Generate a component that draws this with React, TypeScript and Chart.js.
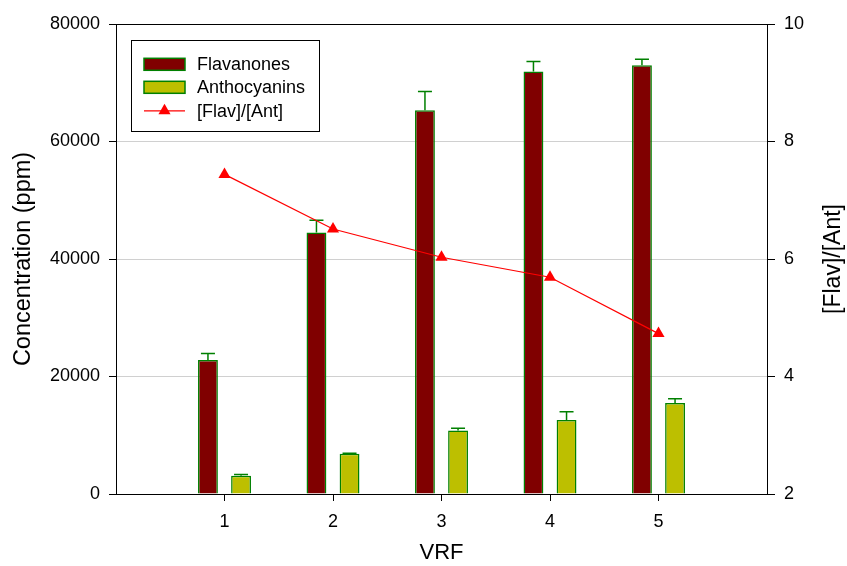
import React, { useEffect, useRef } from "react";
import { Chart, registerables } from "chart.js";

Chart.register(...registerables);

const categories = [1, 2, 3, 4, 5];
const flavanones = [22800, 44500, 65300, 71900, 73000];
const flavanonesErr = [1100, 2100, 3200, 1700, 1000];
const anthocyanins = [3100, 6850, 10800, 12600, 15500];
const anthocyaninsErr = [200, 100, 400, 1400, 700];
const ratio = [7.44, 6.51, 6.03, 5.69, 4.73];

const seriesLabels = ["Flavanones", "Anthocyanins", "[Flav]/[Ant]"];
const xTitle = "VRF";
const yTitle = "Concentration (ppm)";
const y1Title = "[Flav]/[Ant]";

const FONT = "'Liberation Sans', Arial, Helvetica, sans-serif";
const FLAV_COLOR = "#800000";
const ANTH_COLOR = "#bdbf00";
const EDGE_GREEN = "#008000";
const LINE_RED = "#ff0000";

const errorBarPlugin = {
  id: "errorBars",
  afterDatasetDraw(chart: any, args: any) {
    const ds = chart.data.datasets[args.index];
    const errs: number[] | undefined = ds.errors;
    if (!errs) return;
    const meta = args.meta;
    const yScale = chart.scales[meta.yAxisID];
    const ctx = chart.ctx;
    ctx.save();
    ctx.strokeStyle = EDGE_GREEN;
    ctx.lineWidth = 1.5;
    meta.data.forEach((el: any, i: number) => {
      const v = ds.data[i].y;
      const top = yScale.getPixelForValue(v + errs[i]);
      const base = el.y;
      ctx.beginPath();
      ctx.moveTo(el.x, base);
      ctx.lineTo(el.x, top);
      ctx.moveTo(el.x - 7, top);
      ctx.lineTo(el.x + 7, top);
      ctx.stroke();
    });
    ctx.restore();
  },
};

const extrasPlugin = {
  id: "extras",
  afterDraw(chart: any) {
    const ctx = chart.ctx;
    const area = chart.chartArea;
    // right axis title (reads bottom-to-top)
    ctx.save();
    ctx.fillStyle = "#000";
    ctx.font = `23px ${FONT}`;
    ctx.textAlign = "center";
    ctx.textBaseline = "middle";
    ctx.translate(834, (area.top + area.bottom) / 2);
    ctx.rotate(-Math.PI / 2);
    ctx.fillText(y1Title, 0, 0);
    ctx.restore();

    // legend box
    const bx = area.left + 15.5;
    const by = area.top + 16.5;
    const bw = 188;
    const bh = 91;
    ctx.save();
    ctx.fillStyle = "#fff";
    ctx.fillRect(bx, by, bw, bh);
    ctx.strokeStyle = "#000";
    ctx.lineWidth = 1;
    ctx.strokeRect(bx, by, bw, bh);
    const rows = [23.8, 46.8, 70.3];
    const sx = bx + 12.5;
    const sw = 41;
    const fills = [FLAV_COLOR, ANTH_COLOR];
    for (let i = 0; i < 2; i++) {
      const cy = by + rows[i];
      ctx.fillStyle = fills[i];
      ctx.fillRect(sx, cy - 6, sw, 12);
      ctx.strokeStyle = EDGE_GREEN;
      ctx.lineWidth = 1.5;
      ctx.strokeRect(sx, cy - 6, sw, 12);
    }
    {
      const cy = by + rows[2];
      ctx.strokeStyle = LINE_RED;
      ctx.lineWidth = 1.2;
      ctx.beginPath();
      ctx.moveTo(sx, cy);
      ctx.lineTo(sx + sw, cy);
      ctx.stroke();
      const r = 7;
      const cx = sx + sw / 2;
      ctx.fillStyle = LINE_RED;
      ctx.beginPath();
      ctx.moveTo(cx, cy - r);
      ctx.lineTo(cx + r * Math.sin((2 * Math.PI) / 3), cy + r / 2);
      ctx.lineTo(cx - r * Math.sin((2 * Math.PI) / 3), cy + r / 2);
      ctx.closePath();
      ctx.fill();
    }
    ctx.fillStyle = "#000";
    ctx.font = `18px ${FONT}`;
    ctx.textAlign = "left";
    ctx.textBaseline = "middle";
    for (let i = 0; i < 3; i++) {
      ctx.fillText(seriesLabels[i], bx + 65.5, by + rows[i] + 1);
    }
    ctx.restore();
  },
};

export default function App() {
  const ref = useRef<HTMLCanvasElement | null>(null);

  useEffect(() => {
    if (!ref.current) return;
    const chart = new Chart(ref.current, {
      type: "bar",
      data: {
        datasets: [
          {
            type: "line",
            label: seriesLabels[2],
            data: categories.map((c, i) => ({ x: c, y: ratio[i] })),
            yAxisID: "y1",
            xAxisID: "x",
            borderColor: LINE_RED,
            backgroundColor: LINE_RED,
            borderWidth: 1.2,
            pointStyle: "triangle",
            pointRadius: 7,
            pointBorderWidth: 0,
            pointBackgroundColor: LINE_RED,
            tension: 0,
            order: 0,
          } as any,
          {
            type: "bar",
            label: seriesLabels[0],
            data: categories.map((c, i) => ({ x: c, y: flavanones[i] })),
            errors: flavanonesErr,
            yAxisID: "y",
            xAxisID: "x",
            backgroundColor: FLAV_COLOR,
            borderColor: EDGE_GREEN,
            borderWidth: 1.5,
            borderSkipped: "start",
            categoryPercentage: 0.61,
            barPercentage: 0.6,
            order: 1,
          } as any,
          {
            type: "bar",
            label: seriesLabels[1],
            data: categories.map((c, i) => ({ x: c, y: anthocyanins[i] })),
            errors: anthocyaninsErr,
            yAxisID: "y",
            xAxisID: "x",
            backgroundColor: ANTH_COLOR,
            borderColor: EDGE_GREEN,
            borderWidth: 1.5,
            borderSkipped: "start",
            categoryPercentage: 0.61,
            barPercentage: 0.6,
            order: 1,
          } as any,
        ],
      },
      options: {
        responsive: false,
        animation: false,
        devicePixelRatio: 1,
        layout: { padding: { top: 24, left: 0, right: 0, bottom: 0 } },
        plugins: {
          legend: { display: false },
          tooltip: { enabled: false },
        },
        scales: {
          x: {
            type: "linear",
            position: "bottom",
            min: 0,
            max: 6,
            offset: false,
            afterBuildTicks: (scale: any) => {
              scale.ticks = scale.ticks.filter((t: any) => t.value >= 1 && t.value <= 5);
            },
            afterFit: (scale: any) => {
              scale.height = 72;
            },
            ticks: {
              stepSize: 1,
              color: "#000",
              padding: 10,
              font: { family: FONT, size: 18 },
              callback: (v: any) => String(v),
            },
            grid: {
              offset: false,
              drawOnChartArea: false,
              drawTicks: true,
              tickLength: 7,
              tickColor: "#000",
            },
            border: { display: true, color: "#000", width: 1 },
            title: {
              display: true,
              text: xTitle,
              color: "#000",
              font: { family: FONT, size: 22 },
              padding: { top: 0, bottom: 0 },
            },
          },
          y: {
            type: "linear",
            position: "left",
            min: 0,
            max: 80000,
            afterFit: (scale: any) => {
              scale.width = 116;
            },
            ticks: {
              stepSize: 20000,
              color: "#000",
              padding: 9,
              font: { family: FONT, size: 18 },
              callback: (v: any) => String(v),
            },
            grid: {
              color: (c: any) =>
                c.tick && c.tick.value === 80000 ? "#000" : c.tick && c.tick.value === 0 ? "rgba(0,0,0,0)" : "#d0d0d0",
              lineWidth: 1,
              drawTicks: true,
              tickLength: 7,
              tickColor: "#000",
            },
            border: { display: true, color: "#000", width: 1 },
            title: {
              display: true,
              text: yTitle,
              color: "#000",
              font: { family: FONT, size: 23.5 },
              padding: { top: 9, bottom: 0 },
            },
          },
          y1: {
            type: "linear",
            position: "right",
            min: 2,
            max: 10,
            afterFit: (scale: any) => {
              scale.width = 80;
            },
            ticks: {
              stepSize: 2,
              color: "#000",
              padding: 9,
              font: { family: FONT, size: 18 },
              callback: (v: any) => String(v),
            },
            grid: {
              drawOnChartArea: false,
              drawTicks: true,
              tickLength: 8,
              tickColor: "#000",
            },
            border: { display: true, color: "#000", width: 1 },
          },
        },
      } as any,
      plugins: [errorBarPlugin, extrasPlugin],
    });
    return () => chart.destroy();
  }, []);

  return (
    <div style={{ position: "fixed", left: 0, top: 0, width: 847, height: 566, background: "#fff" }}>
      <canvas ref={ref} width={847} height={566} style={{ display: "block" }} />
    </div>
  );
}
